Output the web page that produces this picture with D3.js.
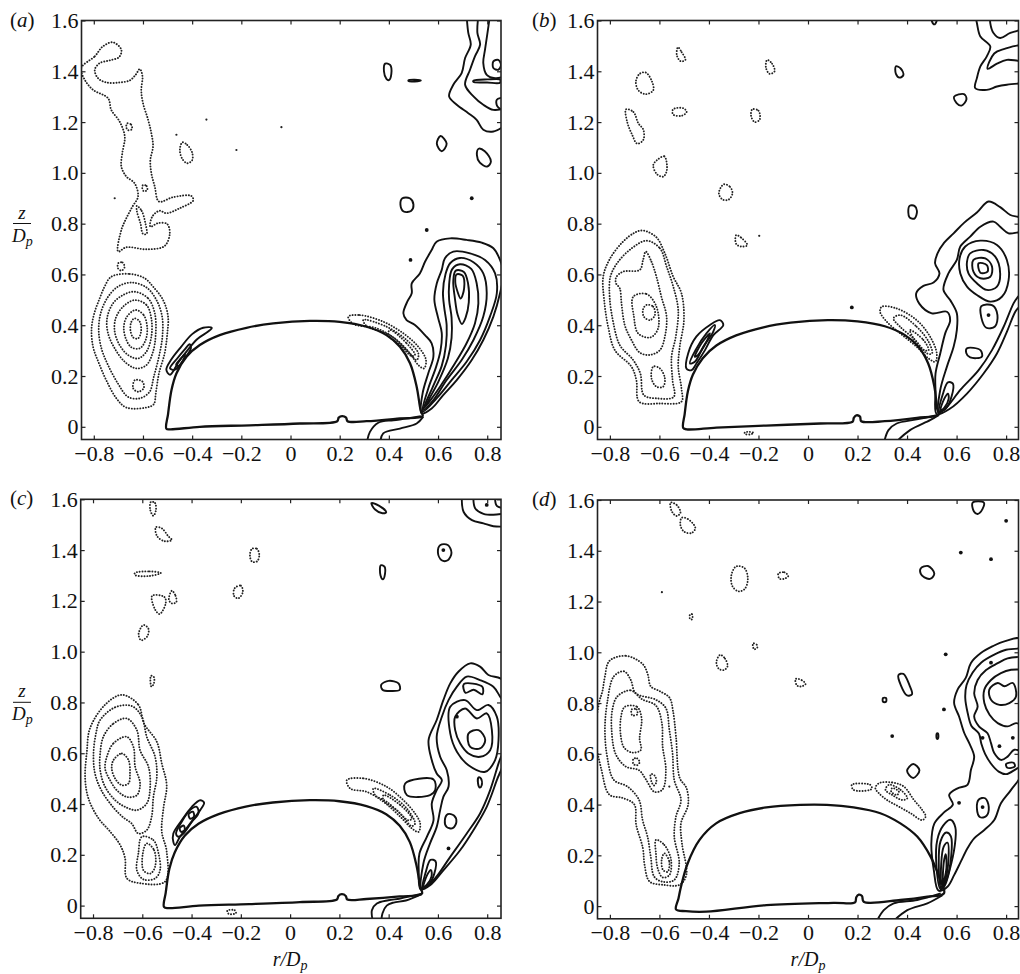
<!DOCTYPE html>
<html><head><meta charset="utf-8">
<script src="https://cdn.jsdelivr.net/npm/d3@7"></script>
<style>
body{margin:0;background:#fff;}
svg{display:block;}
text{font-family:"Liberation Serif","Times New Roman",serif;fill:#111;}
</style></head><body>
<svg id="chart" width="1020" height="974"></svg>
<script>
// ---------- axis data ----------
const xTicks=[-0.8,-0.6,-0.4,-0.2,0,0.2,0.4,0.6,0.8];
const xTickLabels=["\u22120.8","\u22120.6","\u22120.4","\u22120.2","0","0.2","0.4","0.6","0.8"];
const yTicks=[0,0.2,0.4,0.6,0.8,1.0,1.2,1.4,1.6];
const yTickLabels=["0","0.2","0.4","0.6","0.8","1.0","1.2","1.4","1.6"];
const panelLetters=["a","b","c","d"];

// ---------- panel (a) ----------
const bodyA=[[-0.505,-0.007],[-0.498,0.05],[-0.484,0.145],[-0.464,0.21],[-0.423,0.276],[-0.369,0.322],[-0.288,0.361],[-0.179,0.39],[-0.07,0.407],[0.079,0.417],[0.2,0.413],[0.309,0.394],[0.39,0.361],[0.445,0.315],[0.486,0.25],[0.513,0.158],[0.529,0.066],[0.537,0.042],[0.445,0.033],[0.309,0.022],[0.232,0.022],[0.226,0.036],[0.21,0.042],[0.196,0.036],[0.19,0.022],[0.038,0.013],[-0.166,0.006],[-0.369,0.0],[-0.491,-0.01]];
const negA=[
[[-0.851,1.413],[-0.796,1.459],[-0.763,1.498],[-0.722,1.514],[-0.688,1.485],[-0.697,1.456],[-0.735,1.443],[-0.776,1.432],[-0.796,1.406],[-0.783,1.373],[-0.749,1.356],[-0.695,1.356],[-0.654,1.364],[-0.630,1.386],[-0.613,1.409],[-0.602,1.380],[-0.607,1.327],[-0.600,1.275],[-0.579,1.209],[-0.566,1.156],[-0.559,1.104],[-0.570,1.051],[-0.566,0.999],[-0.552,0.946],[-0.535,0.887],[-0.478,0.904],[-0.403,0.909],[-0.396,0.891],[-0.450,0.861],[-0.505,0.841],[-0.532,0.851],[-0.562,0.828],[-0.570,0.788],[-0.539,0.802],[-0.502,0.799],[-0.491,0.762],[-0.512,0.712],[-0.586,0.699],[-0.668,0.707],[-0.701,0.690],[-0.688,0.775],[-0.668,0.821],[-0.643,0.867],[-0.620,0.907],[-0.634,0.959],[-0.668,0.986],[-0.688,1.025],[-0.684,1.078],[-0.674,1.143],[-0.695,1.202],[-0.729,1.248],[-0.742,1.294],[-0.803,1.327],[-0.837,1.367]],
[[-0.625,0.87],[-0.605,0.85],[-0.59,0.80],[-0.585,0.76],[-0.60,0.76],[-0.61,0.80],[-0.625,0.85]],
[[-0.664,1.195],[-0.648,1.19],[-0.645,1.172],[-0.66,1.168],[-0.668,1.18]],
[[-0.6,0.952],[-0.585,0.948],[-0.583,0.932],[-0.597,0.928],[-0.603,0.94]],
[[-0.44,1.12],[-0.42,1.11],[-0.40,1.08],[-0.40,1.05],[-0.42,1.038],[-0.44,1.055],[-0.45,1.09]],
[[-0.729,0.591],[-0.654,0.602],[-0.593,0.585],[-0.559,0.552],[-0.518,0.499],[-0.498,0.434],[-0.501,0.368],[-0.512,0.289],[-0.535,0.210],[-0.548,0.131],[-0.556,0.089],[-0.586,0.076],[-0.668,0.076],[-0.708,0.112],[-0.746,0.177],[-0.779,0.250],[-0.803,0.315],[-0.809,0.388],[-0.798,0.447],[-0.776,0.506],[-0.756,0.552]],
[[-0.647,0.568],[-0.586,0.549],[-0.545,0.499],[-0.522,0.434],[-0.521,0.355],[-0.535,0.276],[-0.556,0.197],[-0.573,0.138],[-0.613,0.112],[-0.661,0.118],[-0.702,0.171],[-0.742,0.243],[-0.769,0.309],[-0.780,0.381],[-0.772,0.447],[-0.746,0.506],[-0.702,0.552]],
[[-0.634,0.532],[-0.579,0.506],[-0.552,0.447],[-0.548,0.368],[-0.559,0.296],[-0.586,0.243],[-0.627,0.230],[-0.674,0.256],[-0.715,0.309],[-0.742,0.368],[-0.746,0.427],[-0.722,0.486],[-0.681,0.519]],
[[-0.634,0.499],[-0.586,0.480],[-0.566,0.427],[-0.566,0.355],[-0.586,0.296],[-0.620,0.269],[-0.661,0.283],[-0.695,0.322],[-0.715,0.375],[-0.711,0.427],[-0.681,0.473]],
[[-0.630,0.460],[-0.597,0.440],[-0.583,0.394],[-0.589,0.342],[-0.613,0.309],[-0.647,0.313],[-0.670,0.348],[-0.678,0.394],[-0.665,0.434]],
[[-0.634,0.427],[-0.613,0.414],[-0.608,0.375],[-0.620,0.348],[-0.640,0.352],[-0.651,0.381],[-0.647,0.414]],
[[-0.70,0.645],[-0.683,0.647],[-0.675,0.628],[-0.688,0.615],[-0.702,0.625]],
[[-0.633,0.184],[-0.602,0.178],[-0.597,0.152],[-0.62,0.138],[-0.64,0.152]],
[[0.235,0.434],[0.282,0.44],[0.377,0.414],[0.459,0.368],[0.52,0.315],[0.551,0.263],[0.543,0.23],[0.52,0.243],[0.486,0.289],[0.432,0.342],[0.35,0.388],[0.255,0.405]],
[[0.296,0.421],[0.391,0.394],[0.472,0.342],[0.52,0.289],[0.513,0.263],[0.472,0.302],[0.404,0.361],[0.309,0.397]],
[[0.404,0.381],[0.472,0.329],[0.506,0.283],[0.492,0.279],[0.445,0.322],[0.398,0.361]]
];
const negDotsA=[[-0.715,0.90],[-0.464,1.15],[-0.342,1.21],[-0.22,1.09],[-0.037,1.18]];
const posA=[
[[-0.505,0.225],[-0.485,0.265],[-0.445,0.315],[-0.40,0.365],[-0.355,0.39],[-0.32,0.39],[-0.335,0.375],[-0.38,0.345],[-0.42,0.30],[-0.455,0.255],[-0.49,0.205]],
[[-0.49,0.23],[-0.46,0.27],[-0.43,0.305],[-0.41,0.325],[-0.405,0.31],[-0.43,0.27],[-0.47,0.225]],
[[-0.465,0.245],[-0.445,0.27],[-0.43,0.285],[-0.435,0.265],[-0.455,0.24]],
[[0.533,0.053],[0.537,0.131],[0.560,0.210],[0.581,0.276],[0.574,0.329],[0.547,0.361],[0.506,0.401],[0.472,0.420],[0.459,0.447],[0.475,0.493],[0.493,0.526],[0.493,0.565],[0.526,0.604],[0.547,0.650],[0.574,0.696],[0.594,0.729],[0.649,0.742],[0.716,0.736],[0.778,0.725],[0.825,0.703],[0.852,0.657],[0.866,0.604],[0.852,0.526],[0.825,0.434],[0.784,0.342],[0.737,0.263],[0.676,0.184],[0.621,0.125],[0.574,0.072]],
[[0.537,0.059],[0.56,0.15],[0.59,0.23],[0.61,0.30],[0.615,0.37],[0.60,0.43],[0.585,0.50],[0.595,0.565],[0.615,0.618],[0.628,0.664],[0.662,0.690],[0.730,0.683],[0.791,0.657],[0.832,0.604],[0.839,0.526],[0.811,0.434],[0.771,0.342],[0.716,0.256],[0.655,0.184],[0.594,0.112]],
[[0.540,0.066],[0.58,0.16],[0.615,0.24],[0.632,0.32],[0.635,0.40],[0.625,0.47],[0.62,0.53],[0.63,0.60],[0.65,0.645],[0.689,0.665],[0.744,0.648],[0.784,0.604],[0.798,0.526],[0.784,0.434],[0.744,0.342],[0.696,0.263],[0.635,0.184],[0.581,0.105]],
[[0.543,0.072],[0.60,0.175],[0.64,0.27],[0.655,0.35],[0.655,0.43],[0.645,0.50],[0.645,0.56],[0.657,0.62],[0.689,0.640],[0.735,0.622],[0.757,0.565],[0.764,0.486],[0.750,0.407],[0.716,0.329],[0.669,0.250],[0.608,0.158]],
[[0.672,0.615],[0.705,0.61],[0.722,0.565],[0.725,0.49],[0.712,0.43],[0.697,0.405],[0.68,0.44],[0.668,0.51],[0.662,0.575]],
[[0.675,0.60],[0.700,0.595],[0.706,0.545],[0.692,0.505],[0.68,0.53],[0.67,0.57]],
[[0.825,1.439],[0.845,1.445],[0.856,1.425],[0.845,1.406],[0.825,1.413]],
[[0.744,1.363],[0.80,1.368],[0.852,1.367],[0.852,1.355],[0.80,1.356],[0.744,1.358]],
[[0.839,1.288],[0.866,1.294],[0.866,1.248],[0.841,1.262]],
[[0.385,1.43],[0.405,1.425],[0.41,1.39],[0.40,1.365],[0.39,1.37],[0.38,1.40]],
[[0.48,1.365],[0.505,1.367],[0.53,1.364],[0.505,1.360],[0.48,1.361]],
[[0.61,1.145],[0.635,1.115],[0.615,1.085],[0.595,1.115]],
[[0.765,1.095],[0.79,1.085],[0.815,1.045],[0.80,1.025],[0.77,1.04],[0.758,1.07]],
[[0.455,0.9],[0.485,0.9],[0.5,0.875],[0.49,0.85],[0.46,0.848],[0.447,0.875]]
];
const posOpenA=[
[[0.716,1.62],[0.723,1.551],[0.733,1.505],[0.710,1.452],[0.696,1.393],[0.662,1.347],[0.645,1.301],[0.676,1.268],[0.723,1.235],[0.757,1.209],[0.784,1.170],[0.825,1.163],[0.875,1.189]],
[[0.764,1.62],[0.760,1.551],[0.771,1.505],[0.750,1.459],[0.730,1.406],[0.710,1.347],[0.744,1.301],[0.784,1.268],[0.825,1.248],[0.875,1.255]],
[[0.811,1.62],[0.800,1.544],[0.791,1.485],[0.784,1.432],[0.798,1.386],[0.832,1.373],[0.875,1.380]],
[[0.309,-0.07],[0.323,-0.020],[0.357,0.016],[0.418,0.026],[0.472,0.032],[0.530,0.042]],
[[0.364,-0.07],[0.377,-0.026],[0.445,-0.007],[0.513,0.013],[0.540,0.040]]
];
const posDotsA=[[0.737,0.9],[0.554,0.775],[0.488,0.657]];

// ---------- panel (b) ----------
const bodyB=[[-0.504,-0.004],[-0.498,0.05],[-0.485,0.14],[-0.465,0.205],[-0.425,0.27],[-0.37,0.32],[-0.29,0.36],[-0.18,0.392],[-0.07,0.41],[0.08,0.42],[0.2,0.415],[0.31,0.396],[0.39,0.362],[0.445,0.316],[0.485,0.25],[0.51,0.16],[0.522,0.07],[0.528,0.048],[0.44,0.035],[0.31,0.022],[0.215,0.022],[0.21,0.04],[0.195,0.045],[0.185,0.035],[0.18,0.02],[0.05,0.013],[-0.17,0.005],[-0.37,-0.003],[-0.49,-0.01]];
const negB=[
[[-0.666,0.773],[-0.612,0.746],[-0.578,0.683],[-0.544,0.591],[-0.511,0.526],[-0.501,0.420],[-0.518,0.315],[-0.524,0.237],[-0.511,0.151],[-0.511,0.099],[-0.598,0.092],[-0.682,0.099],[-0.693,0.184],[-0.713,0.237],[-0.780,0.302],[-0.807,0.394],[-0.823,0.499],[-0.827,0.591],[-0.801,0.660],[-0.747,0.729],[-0.699,0.765]],
[[-0.652,0.733],[-0.598,0.703],[-0.571,0.631],[-0.544,0.552],[-0.524,0.460],[-0.534,0.355],[-0.551,0.276],[-0.547,0.184],[-0.542,0.118],[-0.612,0.112],[-0.663,0.125],[-0.677,0.210],[-0.706,0.263],[-0.760,0.322],[-0.787,0.414],[-0.801,0.512],[-0.798,0.591],[-0.771,0.644],[-0.717,0.699]],
[[-0.655,0.690],[-0.632,0.650],[-0.612,0.591],[-0.592,0.512],[-0.571,0.434],[-0.578,0.355],[-0.598,0.302],[-0.639,0.283],[-0.679,0.292],[-0.713,0.342],[-0.740,0.401],[-0.753,0.486],[-0.760,0.545],[-0.775,0.565],[-0.775,0.588],[-0.747,0.611],[-0.679,0.618],[-0.666,0.657]],
[[-0.706,0.512],[-0.652,0.523],[-0.612,0.473],[-0.605,0.388],[-0.636,0.352],[-0.686,0.368],[-0.703,0.434]],
[[-0.652,0.480],[-0.625,0.473],[-0.618,0.440],[-0.639,0.420],[-0.663,0.434],[-0.666,0.463]],
[[-0.625,0.237],[-0.598,0.230],[-0.578,0.191],[-0.585,0.158],[-0.612,0.158],[-0.632,0.191]],
[[-0.525,1.495],[-0.51,1.475],[-0.495,1.445],[-0.515,1.44],[-0.53,1.465]],
[[-0.68,1.39],[-0.655,1.395],[-0.63,1.36],[-0.625,1.325],[-0.655,1.31],[-0.685,1.325],[-0.695,1.36]],
[[-0.545,1.25],[-0.505,1.255],[-0.49,1.24],[-0.51,1.225],[-0.545,1.23]],
[[-0.735,1.25],[-0.705,1.24],[-0.685,1.195],[-0.665,1.17],[-0.665,1.13],[-0.69,1.115],[-0.71,1.15],[-0.73,1.2]],
[[-0.61,1.05],[-0.58,1.065],[-0.57,1.01],[-0.585,0.985],[-0.61,0.995],[-0.625,1.03]],
[[-0.165,1.445],[-0.145,1.43],[-0.135,1.40],[-0.155,1.39],[-0.17,1.415]],
[[-0.225,1.25],[-0.2,1.245],[-0.195,1.21],[-0.215,1.2],[-0.23,1.225]],
[[-0.34,0.955],[-0.315,0.945],[-0.305,0.92],[-0.32,0.895],[-0.345,0.895],[-0.36,0.92]],
[[-0.29,0.755],[-0.27,0.745],[-0.245,0.715],[-0.27,0.71],[-0.29,0.72]],
[[-0.255,-0.022],[-0.235,-0.02],[-0.22,-0.024],[-0.235,-0.03],[-0.255,-0.028]],
[[0.298,0.473],[0.358,0.466],[0.439,0.420],[0.493,0.355],[0.520,0.289],[0.514,0.256],[0.487,0.269],[0.439,0.315],[0.372,0.368],[0.318,0.414],[0.291,0.453]],
[[0.372,0.440],[0.439,0.394],[0.487,0.335],[0.501,0.289],[0.480,0.289],[0.433,0.342],[0.372,0.394],[0.345,0.427]],
[[0.412,0.381],[0.466,0.342],[0.487,0.302],[0.470,0.302],[0.426,0.348]]
];
const negDotsB=[[-0.197,0.752]];
const posB=[
[[-0.491,0.230],[-0.484,0.289],[-0.451,0.355],[-0.396,0.401],[-0.356,0.420],[-0.342,0.401],[-0.383,0.36],[-0.416,0.302],[-0.450,0.250],[-0.470,0.223]],
[[-0.477,0.250],[-0.450,0.309],[-0.410,0.368],[-0.376,0.401],[-0.383,0.374],[-0.423,0.315],[-0.457,0.256]],
[[-0.457,0.276],[-0.430,0.329],[-0.396,0.368],[-0.410,0.335],[-0.444,0.283]],
[[0.520,0.050],[0.515,0.14],[0.515,0.21],[0.534,0.289],[0.554,0.368],[0.574,0.420],[0.561,0.453],[0.500,0.447],[0.450,0.484],[0.437,0.526],[0.466,0.555],[0.507,0.568],[0.531,0.604],[0.513,0.644],[0.523,0.683],[0.550,0.725],[0.588,0.762],[0.631,0.804],[0.682,0.844],[0.729,0.887],[0.776,0.865],[0.817,0.834],[0.870,0.815],[0.870,0.499],[0.837,0.453],[0.803,0.374],[0.763,0.289],[0.709,0.210],[0.642,0.131],[0.574,0.072]],
[[0.527,0.055],[0.534,0.145],[0.561,0.237],[0.588,0.315],[0.601,0.381],[0.601,0.447],[0.574,0.499],[0.547,0.539],[0.567,0.604],[0.601,0.657],[0.615,0.710],[0.655,0.749],[0.696,0.788],[0.749,0.808],[0.776,0.788],[0.810,0.762],[0.870,0.762],[0.870,0.552],[0.830,0.486],[0.790,0.394],[0.743,0.302],[0.689,0.223],[0.615,0.145],[0.555,0.072]],
[[0.635,0.710],[0.696,0.733],[0.763,0.716],[0.803,0.657],[0.810,0.578],[0.783,0.512],[0.736,0.493],[0.682,0.519],[0.642,0.552],[0.615,0.604],[0.612,0.663]],
[[0.655,0.683],[0.709,0.696],[0.756,0.670],[0.776,0.604],[0.763,0.552],[0.722,0.539],[0.682,0.565],[0.648,0.604],[0.642,0.650]],
[[0.668,0.657],[0.716,0.663],[0.743,0.631],[0.736,0.591],[0.696,0.585],[0.668,0.611]],
[[0.689,0.644],[0.722,0.637],[0.725,0.611],[0.696,0.607]],
[[0.70,0.475],[0.745,0.478],[0.765,0.44],[0.755,0.395],[0.72,0.39],[0.70,0.43]],
[[0.642,0.309],[0.696,0.302],[0.702,0.276],[0.655,0.273],[0.639,0.291]],
[[0.53,0.06],[0.545,0.13],[0.565,0.175],[0.585,0.17],[0.58,0.12],[0.555,0.07]],
[[0.535,0.065],[0.55,0.11],[0.565,0.13],[0.568,0.11],[0.55,0.075]],
[[0.870,1.50],[0.79,1.487],[0.752,1.47],[0.725,1.41],[0.763,1.43],[0.803,1.445],[0.870,1.445]],
[[0.50,1.605],[0.52,1.605],[0.512,1.585],[0.505,1.588]],
[[0.355,1.42],[0.375,1.41],[0.385,1.385],[0.37,1.375],[0.355,1.39]],
[[0.59,1.30],[0.63,1.31],[0.64,1.29],[0.62,1.265],[0.60,1.275]],
[[0.41,0.87],[0.43,0.87],[0.44,0.85],[0.43,0.82],[0.41,0.825],[0.405,0.845]]
];
const posOpenB=[
[[0.676,1.62],[0.682,1.590],[0.696,1.537],[0.736,1.498],[0.722,1.459],[0.696,1.419],[0.682,1.373],[0.675,1.334],[0.722,1.327],[0.763,1.340],[0.803,1.347],[0.870,1.353]],
[[0.736,1.62],[0.736,1.590],[0.749,1.551],[0.776,1.531],[0.817,1.551],[0.870,1.564]],
[[0.305,-0.07],[0.325,-0.013],[0.358,0.013],[0.439,0.029],[0.520,0.046]],
[[0.345,-0.07],[0.412,-0.013],[0.493,0.026],[0.527,0.046]]
];
const posDotsB=[[0.177,0.47],[0.729,0.44]];

// ---------- panel (c) ----------
const bodyC=[[-0.512,-0.005],[-0.505,0.05],[-0.49,0.145],[-0.468,0.21],[-0.427,0.276],[-0.372,0.322],[-0.29,0.36],[-0.18,0.39],[-0.07,0.406],[0.08,0.415],[0.2,0.411],[0.31,0.392],[0.39,0.36],[0.445,0.314],[0.486,0.25],[0.513,0.158],[0.528,0.075],[0.535,0.047],[0.445,0.036],[0.31,0.026],[0.232,0.024],[0.226,0.038],[0.21,0.045],[0.196,0.038],[0.19,0.024],[0.04,0.014],[-0.166,0.006],[-0.37,0.0],[-0.495,-0.01]];
const negC=[
[[-0.683,0.830],[-0.616,0.791],[-0.593,0.717],[-0.541,0.645],[-0.521,0.560],[-0.501,0.474],[-0.514,0.384],[-0.521,0.292],[-0.501,0.213],[-0.507,0.095],[-0.609,0.088],[-0.663,0.108],[-0.670,0.187],[-0.690,0.239],[-0.731,0.292],[-0.778,0.344],[-0.819,0.423],[-0.832,0.502],[-0.825,0.607],[-0.812,0.699],[-0.751,0.791]],
[[-0.771,0.731],[-0.710,0.781],[-0.643,0.786],[-0.602,0.744],[-0.582,0.665],[-0.548,0.586],[-0.541,0.507],[-0.555,0.428],[-0.562,0.350],[-0.582,0.297],[-0.616,0.284],[-0.643,0.323],[-0.677,0.347],[-0.717,0.386],[-0.765,0.452],[-0.792,0.520],[-0.798,0.599],[-0.788,0.678]],
[[-0.758,0.665],[-0.717,0.717],[-0.663,0.737],[-0.622,0.691],[-0.609,0.612],[-0.575,0.547],[-0.568,0.468],[-0.582,0.402],[-0.622,0.376],[-0.670,0.389],[-0.710,0.415],[-0.751,0.468],[-0.771,0.533],[-0.771,0.599]],
[[-0.744,0.586],[-0.717,0.639],[-0.663,0.665],[-0.636,0.625],[-0.629,0.547],[-0.609,0.481],[-0.622,0.435],[-0.663,0.428],[-0.704,0.455],[-0.731,0.494],[-0.751,0.540]],
[[-0.717,0.573],[-0.683,0.599],[-0.656,0.573],[-0.650,0.520],[-0.656,0.481],[-0.683,0.474],[-0.710,0.500],[-0.724,0.540]],
[[-0.602,0.271],[-0.555,0.258],[-0.534,0.205],[-0.528,0.139],[-0.548,0.107],[-0.595,0.103],[-0.622,0.139],[-0.616,0.205]],
[[-0.582,0.245],[-0.552,0.218],[-0.548,0.153],[-0.568,0.126],[-0.595,0.139],[-0.598,0.205]],
[[-0.565,1.59],[-0.548,1.585],[-0.545,1.555],[-0.555,1.535],[-0.568,1.56]],
[[-0.545,1.49],[-0.52,1.485],[-0.495,1.455],[-0.48,1.44],[-0.51,1.435],[-0.54,1.455]],
[[-0.63,1.31],[-0.57,1.316],[-0.525,1.31],[-0.57,1.298],[-0.63,1.302]],
[[-0.56,1.22],[-0.51,1.215],[-0.505,1.19],[-0.53,1.148],[-0.55,1.17]],
[[-0.48,1.24],[-0.465,1.22],[-0.462,1.195],[-0.48,1.19],[-0.492,1.205]],
[[-0.595,1.105],[-0.575,1.09],[-0.58,1.06],[-0.605,1.045],[-0.615,1.07]],
[[-0.565,0.905],[-0.553,0.9],[-0.553,0.875],[-0.563,0.862]],
[[-0.155,1.405],[-0.135,1.405],[-0.125,1.38],[-0.135,1.355],[-0.155,1.355],[-0.163,1.38]],
[[-0.225,1.25],[-0.2,1.26],[-0.192,1.235],[-0.21,1.21],[-0.228,1.22]],
[[-0.255,-0.02],[-0.225,-0.018],[-0.22,-0.03],[-0.25,-0.032]],
[[0.230,0.494],[0.298,0.501],[0.392,0.468],[0.460,0.415],[0.507,0.363],[0.528,0.323],[0.521,0.290],[0.494,0.304],[0.447,0.350],[0.379,0.409],[0.311,0.448],[0.244,0.461]],
[[0.338,0.461],[0.406,0.435],[0.474,0.382],[0.507,0.323],[0.494,0.313],[0.453,0.356],[0.392,0.409],[0.345,0.435]],
[[0.379,0.435],[0.447,0.396],[0.494,0.343],[0.480,0.336],[0.433,0.376],[0.379,0.415]]
];
const negDotsC=[];
const posC=[
[[-0.474,0.251],[-0.474,0.284],[-0.440,0.336],[-0.399,0.389],[-0.365,0.415],[-0.349,0.405],[-0.365,0.376],[-0.406,0.323],[-0.447,0.271],[-0.467,0.238]],
[[-0.463,0.284],[-0.440,0.330],[-0.406,0.376],[-0.379,0.389],[-0.372,0.363],[-0.399,0.330],[-0.433,0.284],[-0.453,0.271]],
[[-0.448,0.305],[-0.432,0.315],[-0.428,0.298],[-0.442,0.29]],
[[-0.412,0.36],[-0.395,0.37],[-0.39,0.352],[-0.405,0.342]],
[[0.530,0.063],[0.522,0.139],[0.525,0.205],[0.555,0.271],[0.582,0.336],[0.575,0.402],[0.595,0.455],[0.616,0.494],[0.595,0.520],[0.575,0.573],[0.562,0.652],[0.595,0.731],[0.622,0.809],[0.650,0.875],[0.683,0.921],[0.731,0.954],[0.771,0.941],[0.805,0.908],[0.853,0.895],[0.873,0.875],[0.873,0.586],[0.839,0.494],[0.798,0.389],[0.744,0.297],[0.690,0.218],[0.622,0.139],[0.568,0.080]],
[[0.534,0.067],[0.541,0.166],[0.568,0.245],[0.595,0.310],[0.609,0.376],[0.622,0.428],[0.643,0.468],[0.636,0.533],[0.609,0.586],[0.595,0.665],[0.616,0.744],[0.643,0.809],[0.677,0.862],[0.717,0.902],[0.771,0.888],[0.825,0.862],[0.853,0.822],[0.873,0.796],[0.873,0.639],[0.846,0.560],[0.812,0.455],[0.771,0.363],[0.717,0.284],[0.650,0.192],[0.582,0.100]],
[[0.467,0.481],[0.582,0.497],[0.589,0.455],[0.568,0.435],[0.474,0.435]],
[[0.650,0.783],[0.710,0.809],[0.758,0.770],[0.805,0.790],[0.839,0.744],[0.846,0.652],[0.832,0.573],[0.792,0.527],[0.724,0.553],[0.677,0.606],[0.650,0.678]],
[[0.670,0.744],[0.710,0.776],[0.758,0.737],[0.798,0.757],[0.819,0.691],[0.812,0.612],[0.771,0.586],[0.724,0.599],[0.690,0.639],[0.670,0.691]],
[[0.724,0.678],[0.765,0.691],[0.792,0.652],[0.771,0.619],[0.731,0.625]],
[[0.705,0.872],[0.78,0.862],[0.78,0.832],[0.745,0.85],[0.712,0.838]],
[[0.64,0.36],[0.665,0.355],[0.675,0.33],[0.66,0.305],[0.635,0.31],[0.628,0.335]],
[[0.765,0.505],[0.775,0.5],[0.778,0.475],[0.77,0.465],[0.763,0.48]],
[[0.538,0.07],[0.55,0.13],[0.57,0.18],[0.59,0.175],[0.585,0.125],[0.56,0.08]],
[[0.542,0.075],[0.556,0.12],[0.572,0.14],[0.574,0.115],[0.555,0.082]],
[[0.33,1.585],[0.36,1.575],[0.39,1.55],[0.375,1.545],[0.345,1.56]],
[[0.368,1.34],[0.383,1.335],[0.385,1.305],[0.377,1.285],[0.367,1.30]],
[[0.61,1.42],[0.64,1.42],[0.655,1.39],[0.64,1.36],[0.615,1.36],[0.6,1.39]],
[[0.37,0.87],[0.40,0.885],[0.44,0.875],[0.445,0.85],[0.41,0.845],[0.375,0.85]]
];
const posOpenC=[
[[0.697,1.62],[0.704,1.551],[0.738,1.518],[0.785,1.505],[0.825,1.494],[0.875,1.493]],
[[0.744,1.62],[0.751,1.565],[0.785,1.543],[0.825,1.539],[0.875,1.545]],
[[0.832,1.62],[0.839,1.574],[0.875,1.565]],
[[0.338,-0.07],[0.332,-0.018],[0.352,0.008],[0.399,0.021],[0.447,0.028],[0.534,0.047]],
[[0.37,-0.07],[0.375,-0.03],[0.392,0.0],[0.42,0.012],[0.47,0.02],[0.534,0.045]]
];
const posDotsC=[[0.677,0.744],[0.643,0.225],[0.622,1.40],[0.798,1.578]];

// ---------- panel (d) ----------
const bodyD=[[-0.533,-0.013],[-0.523,0.03],[-0.513,0.076],[-0.486,0.168],[-0.438,0.261],[-0.371,0.326],[-0.276,0.366],[-0.168,0.389],[-0.032,0.399],[0.076,0.399],[0.184,0.389],[0.292,0.366],[0.373,0.326],[0.441,0.274],[0.495,0.195],[0.529,0.116],[0.549,0.05],[0.482,0.037],[0.373,0.024],[0.225,0.017],[0.218,0.04],[0.205,0.045],[0.195,0.035],[0.19,0.015],[0.103,0.013],[-0.168,0.004],[-0.411,-0.022],[-0.493,-0.02]];
const negD=[
[[-0.802,0.966],[-0.735,0.986],[-0.667,0.953],[-0.647,0.913],[-0.635,0.866],[-0.599,0.847],[-0.559,0.821],[-0.545,0.768],[-0.533,0.668],[-0.518,0.505],[-0.491,0.466],[-0.484,0.400],[-0.513,0.326],[-0.509,0.247],[-0.491,0.124],[-0.518,0.084],[-0.586,0.084],[-0.640,0.097],[-0.660,0.163],[-0.667,0.229],[-0.694,0.321],[-0.701,0.400],[-0.748,0.426],[-0.802,0.439],[-0.834,0.537],[-0.858,0.668],[-0.844,0.800],[-0.830,0.847],[-0.820,0.905]],
[[-0.784,0.905],[-0.743,0.925],[-0.716,0.892],[-0.696,0.839],[-0.614,0.813],[-0.574,0.780],[-0.560,0.695],[-0.547,0.603],[-0.540,0.497],[-0.513,0.418],[-0.533,0.353],[-0.540,0.274],[-0.520,0.168],[-0.540,0.103],[-0.587,0.096],[-0.621,0.116],[-0.635,0.195],[-0.648,0.274],[-0.668,0.339],[-0.682,0.418],[-0.729,0.471],[-0.784,0.497],[-0.811,0.589],[-0.820,0.695],[-0.811,0.800]],
[[-0.770,0.826],[-0.716,0.85],[-0.67,0.815],[-0.614,0.79],[-0.590,0.721],[-0.587,0.629],[-0.574,0.537],[-0.587,0.46],[-0.62,0.45],[-0.655,0.50],[-0.682,0.535],[-0.736,0.55],[-0.777,0.60],[-0.793,0.695],[-0.790,0.774]],
[[-0.74,0.785],[-0.69,0.785],[-0.672,0.74],[-0.68,0.66],[-0.675,0.615],[-0.71,0.605],[-0.743,0.625],[-0.756,0.67],[-0.756,0.74]],
[[-0.712,0.775],[-0.692,0.775],[-0.69,0.755],[-0.71,0.752]],
[[-0.705,0.58],[-0.69,0.582],[-0.68,0.567],[-0.69,0.555],[-0.705,0.56]],
[[-0.635,0.52],[-0.62,0.515],[-0.612,0.49],[-0.622,0.475],[-0.632,0.49]],
[[-0.614,0.261],[-0.580,0.241],[-0.553,0.182],[-0.560,0.122],[-0.587,0.113],[-0.607,0.149],[-0.614,0.208]],
[[-0.580,0.208],[-0.560,0.175],[-0.567,0.135],[-0.585,0.142],[-0.591,0.182]],
[[-0.555,1.59],[-0.53,1.58],[-0.515,1.55],[-0.53,1.537],[-0.55,1.555]],
[[-0.51,1.53],[-0.485,1.525],[-0.455,1.49],[-0.47,1.47],[-0.5,1.475],[-0.515,1.5]],
[[-0.28,1.34],[-0.255,1.33],[-0.243,1.29],[-0.255,1.25],[-0.28,1.24],[-0.305,1.26],[-0.31,1.30],[-0.295,1.335]],
[[-0.12,1.31],[-0.095,1.315],[-0.08,1.30],[-0.095,1.29],[-0.115,1.29]],
[[-0.222,1.035],[-0.207,1.03],[-0.205,1.018],[-0.218,1.012]],
[[-0.355,0.99],[-0.335,0.975],[-0.325,0.945],[-0.34,0.93],[-0.36,0.935],[-0.37,0.96]],
[[-0.05,0.895],[-0.025,0.89],[-0.01,0.875],[-0.03,0.865],[-0.045,0.87]],
[[-0.476,1.15],[-0.468,1.15],[-0.468,1.13],[-0.476,1.13]],
[[0.286,0.484],[0.340,0.487],[0.387,0.471],[0.428,0.418],[0.461,0.379],[0.475,0.353],[0.461,0.339],[0.414,0.366],[0.367,0.392],[0.319,0.418],[0.286,0.445],[0.272,0.464]],
[[0.177,0.478],[0.251,0.478],[0.258,0.465],[0.251,0.458],[0.184,0.458]],
[[0.327,0.478],[0.374,0.458],[0.401,0.425],[0.381,0.418],[0.340,0.438],[0.313,0.458]],
[[0.340,0.465],[0.367,0.451],[0.360,0.438],[0.336,0.451]]
];
const negDotsD=[[-0.59,1.237],[-0.56,0.471]];
const posD=[
[[0.527,0.061],[0.508,0.142],[0.498,0.247],[0.51,0.325],[0.548,0.368],[0.585,0.40],[0.570,0.438],[0.604,0.464],[0.644,0.478],[0.658,0.537],[0.671,0.589],[0.651,0.642],[0.631,0.682],[0.610,0.747],[0.590,0.800],[0.604,0.853],[0.637,0.899],[0.658,0.958],[0.698,0.997],[0.746,1.024],[0.793,1.043],[0.870,1.050],[0.870,0.537],[0.820,0.458],[0.779,0.405],[0.752,0.339],[0.712,0.300],[0.671,0.267],[0.644,0.228],[0.617,0.175],[0.590,0.122],[0.563,0.076]],
[[0.536,0.066],[0.518,0.168],[0.522,0.261],[0.545,0.316],[0.575,0.34],[0.595,0.31],[0.592,0.234],[0.572,0.142],[0.552,0.08]],
[[0.538,0.07],[0.528,0.168],[0.535,0.255],[0.558,0.29],[0.577,0.275],[0.578,0.195],[0.558,0.1]],
[[0.54,0.075],[0.538,0.168],[0.548,0.234],[0.563,0.25],[0.567,0.18],[0.553,0.1]],
[[0.545,0.085],[0.548,0.17],[0.556,0.205],[0.559,0.15]],
[[0.732,0.853],[0.766,0.879],[0.793,0.866],[0.827,0.879],[0.840,0.826],[0.813,0.800],[0.773,0.793],[0.739,0.813]],
[[0.69,0.42],[0.715,0.425],[0.73,0.39],[0.72,0.355],[0.695,0.35],[0.682,0.385]],
[[0.80,0.56],[0.83,0.565],[0.835,0.55],[0.805,0.545]],
[[0.665,1.59],[0.71,1.59],[0.705,1.565],[0.685,1.545],[0.67,1.555]],
[[0.455,1.33],[0.485,1.34],[0.51,1.31],[0.495,1.29],[0.47,1.295],[0.455,1.31]],
[[0.365,0.91],[0.385,0.915],[0.41,0.87],[0.42,0.835],[0.4,0.83],[0.375,0.87]],
[[0.425,0.56],[0.45,0.535],[0.425,0.505],[0.40,0.533]],
[[0.303,0.82],[0.315,0.82],[0.315,0.805],[0.303,0.805]],
[[0.52,0.68],[0.525,0.68],[0.525,0.66],[0.52,0.66]]
];
const posOpenD=[
[[0.875,1.015],[0.80,1.01],[0.75,0.99],[0.70,0.96],[0.665,0.92],[0.64,0.87],[0.635,0.82],[0.645,0.76],[0.66,0.71],[0.69,0.68],[0.70,0.64],[0.715,0.60],[0.74,0.56],[0.77,0.53],[0.80,0.52],[0.84,0.54],[0.875,0.56]],
[[0.875,0.983],[0.806,0.976],[0.766,0.957],[0.719,0.930],[0.685,0.891],[0.671,0.839],[0.685,0.786],[0.671,0.747],[0.691,0.707],[0.725,0.681],[0.739,0.642],[0.752,0.603],[0.779,0.576],[0.806,0.589],[0.833,0.616],[0.875,0.603]],
[[0.875,0.931],[0.820,0.931],[0.779,0.918],[0.739,0.891],[0.712,0.853],[0.712,0.800],[0.733,0.754],[0.766,0.721],[0.806,0.708],[0.840,0.721],[0.875,0.708]],
[[0.272,-0.07],[0.306,-0.016],[0.346,0.011],[0.441,0.024],[0.536,0.050]],
[[0.333,-0.07],[0.401,-0.016],[0.482,0.011],[0.543,0.043]]
];
const posDotsD=[[0.739,0.959],[0.556,0.992],[0.549,0.775],[0.705,0.663],[0.773,0.630],[0.827,0.663],[0.340,0.670],[0.610,0.407],[0.617,1.393],[0.739,1.367],[0.800,1.518],[0.705,0.39]];

// ---------- layout ----------
const panels=[
 {letter:panelLetters[0],xDomain:[-0.85,0.856],xRange:[81.5,501],yRange:[439.5,20.5],labelX:10,yTitle:true,xTitle:false,
  body:bodyA,neg:negA,negDots:negDotsA,pos:posA,posOpen:posOpenA,posDots:posDotsA},
 {letter:panelLetters[1],xDomain:[-0.85,0.85],xRange:[597.5,1018.5],yRange:[439.5,20.5],labelX:532,yTitle:false,xTitle:false,
  body:bodyB,neg:negB,negDots:negDotsB,pos:posB,posOpen:posOpenB,posDots:posDotsB},
 {letter:panelLetters[2],xDomain:[-0.85,0.856],xRange:[80.7,501],yRange:[918.3,499.3],labelX:10,yTitle:true,xTitle:true,
  body:bodyC,neg:negC,negDots:negDotsC,pos:posC,posOpen:posOpenC,posDots:posDotsC},
 {letter:panelLetters[3],xDomain:[-0.85,0.85],xRange:[597.5,1018.5],yRange:[918.8,500],labelX:532,yTitle:false,xTitle:true,
  body:bodyD,neg:negD,negDots:negDotsD,pos:posD,posOpen:posOpenD,posDots:posDotsD}
];

const FONT="'Liberation Serif','Times New Roman',serif";
const svg=d3.select("#chart");
const defs=svg.append("defs");

panels.forEach((p,i)=>{
  const x=d3.scaleLinear().domain(p.xDomain).range(p.xRange);
  const y=d3.scaleLinear().domain([-0.05,1.6]).range(p.yRange);
  const left=p.xRange[0], right=p.xRange[1], top=p.yRange[1], bottom=p.yRange[0];
  const g=svg.append("g");
  defs.append("clipPath").attr("id","clip"+i).append("rect")
     .attr("x",left).attr("y",top).attr("width",right-left).attr("height",bottom-top);
  const closedLine=d3.line().x(d=>x(d[0])).y(d=>y(d[1])).curve(d3.curveCatmullRomClosed.alpha(0.5));
  const openLine=d3.line().x(d=>x(d[0])).y(d=>y(d[1])).curve(d3.curveCatmullRom.alpha(0.5));
  const cg=g.append("g").attr("clip-path",`url(#clip${i})`);

  cg.selectAll("path.neg").data(p.neg).join("path").attr("class","neg")
    .attr("d",closedLine).attr("fill","none").attr("stroke","#222")
    .attr("stroke-width",1.9).attr("stroke-dasharray","0.1 2.7").attr("stroke-linecap","round");
  cg.selectAll("circle.negdot").data(p.negDots).join("circle").attr("class","negdot")
    .attr("cx",d=>x(d[0])).attr("cy",d=>y(d[1])).attr("r",1.1).attr("fill","#222");
  cg.selectAll("path.pos").data(p.pos).join("path").attr("class","pos")
    .attr("d",closedLine).attr("fill","none").attr("stroke","#111").attr("stroke-width",1.9).attr("stroke-linejoin","round");
  cg.selectAll("path.posopen").data(p.posOpen).join("path").attr("class","posopen")
    .attr("d",openLine).attr("fill","none").attr("stroke","#111").attr("stroke-width",1.9);
  cg.selectAll("circle.posdot").data(p.posDots).join("circle").attr("class","posdot")
    .attr("cx",d=>x(d[0])).attr("cy",d=>y(d[1])).attr("r",1.9).attr("fill","#111");
  cg.append("path").datum(p.body).attr("d",closedLine).attr("fill","none")
    .attr("stroke","#111").attr("stroke-width",2.3).attr("stroke-linejoin","round");

  // frame
  g.append("rect").attr("x",left).attr("y",top).attr("width",right-left).attr("height",bottom-top)
    .attr("fill","none").attr("stroke","#222").attr("stroke-width",1.6);

  // axes with inward ticks
  const axB=d3.axisBottom(x).tickValues(xTicks).tickSizeInner(-4).tickSizeOuter(0).tickPadding(6)
     .tickFormat((d,k)=>xTickLabels[k]);
  const axL=d3.axisLeft(y).tickValues(yTicks).tickSizeInner(-4).tickSizeOuter(0).tickPadding(3)
     .tickFormat((d,k)=>yTickLabels[k]);
  const axT=d3.axisTop(x).tickValues(xTicks).tickSizeInner(-4).tickSizeOuter(0).tickFormat("");
  const axR=d3.axisRight(y).tickValues(yTicks).tickSizeInner(-4).tickSizeOuter(0).tickFormat("");
  const style=sel=>{sel.attr("font-family",FONT).attr("font-size",22);
     sel.select(".domain").remove();sel.selectAll("line").attr("stroke","#222").attr("stroke-width",1.2);
     sel.selectAll("text").attr("fill","#111").attr("font-family",FONT).style("font-family",FONT).style("font-size","22px");};
  g.append("g").attr("transform",`translate(0,${bottom})`).call(axB).call(style);
  g.append("g").attr("transform",`translate(${left},0)`).call(axL).call(style);
  g.append("g").attr("transform",`translate(0,${top})`).call(axT).call(style);
  g.append("g").attr("transform",`translate(${right},0)`).call(axR).call(style);

  // panel letter
  const lt=g.append("text").attr("x",p.labelX).attr("y",top+6).style("font-size","21px");
  lt.append("tspan").text("(");
  lt.append("tspan").style("font-style","italic").text(p.letter);
  lt.append("tspan").text(")");

  if(p.yTitle){
    g.append("text").attr("x",22).attr("y",top+198).attr("text-anchor","middle")
      .style("font-style","italic").style("font-size","19px").text("z");
    g.append("line").attr("x1",13).attr("x2",31).attr("y1",top+203).attr("y2",top+203)
      .attr("stroke","#111").attr("stroke-width",1);
    const dt=g.append("text").attr("x",12).attr("y",top+221).style("font-style","italic").style("font-size","19px");
    dt.append("tspan").text("D");
    dt.append("tspan").attr("dy",4).style("font-size","14px").text("p");
  }
  if(p.xTitle){
    const t=g.append("text").attr("x",x(0)).attr("y",966).attr("text-anchor","middle")
      .style("font-style","italic").style("font-size","20px");
    t.append("tspan").text("r/D");
    t.append("tspan").attr("dy",4).style("font-size","14px").text("p");
  }
});
</script>
</body></html>
